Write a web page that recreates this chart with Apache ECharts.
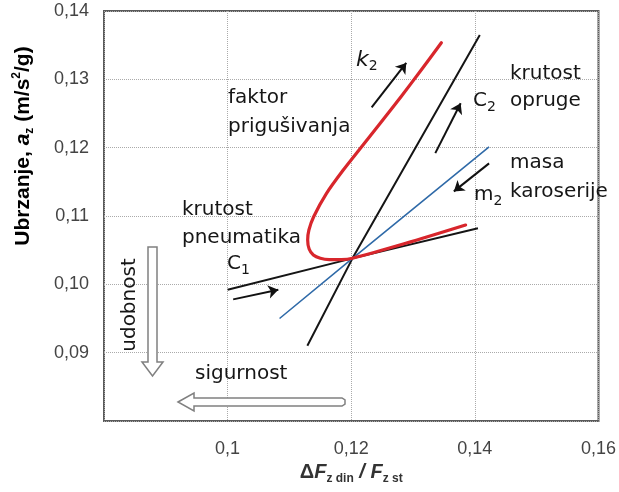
<!DOCTYPE html>
<html>
<head>
<meta charset="utf-8">
<script src="https://cdn.jsdelivr.net/npm/echarts@6/dist/echarts.min.js"></script>
<style>
  html, body { margin: 0; padding: 0; background: #ffffff; }
  #chart { width: 619px; height: 492px; }
</style>
</head>
<body>
<div id="chart"></div>
<script>
// Axis ticks (decimal comma)
const xTicks = [0.10, 0.12, 0.14, 0.16];
const xTickLabels = ['0,1', '0,12', '0,14', '0,16'];
const yTicks = [0.09, 0.10, 0.11, 0.12, 0.13, 0.14];
const yTickLabels = ['0,09', '0,10', '0,11', '0,12', '0,13', '0,14'];

// Damping factor k2 sweep (red)
const dampX = [0.13458, 0.13132, 0.12805, 0.12469, 0.12168, 0.11871, 0.11600, 0.11392, 0.11315, 0.11295, 0.11319, 0.11387, 0.11500, 0.11645, 0.11839, 0.12021, 0.12882, 0.13850];
const dampY = [0.13536, 0.13137, 0.12746, 0.12357, 0.12014, 0.11673, 0.11332, 0.10990, 0.10795, 0.10649, 0.10517, 0.10429, 0.10381, 0.10363, 0.10363, 0.10381, 0.10600, 0.10868];

// Tyre stiffness C1 sweep (black, shallow)
const tyreX = [0.1000, 0.1202, 0.1405];
const tyreY = [0.0992, 0.1038, 0.1082];

// Spring stiffness C2 sweep (black, steep)
const springX = [0.1129, 0.1202, 0.1408];
const springY = [0.0910, 0.1038, 0.1365];

// Body mass m2 sweep (blue)
const massX = [0.1084, 0.1202, 0.1423];
const massY = [0.0950, 0.1038, 0.1201];

// Direction-of-increase arrows [x1, y1, x2, y2]
const arrowK2 = [0.1233, 0.1259, 0.1289, 0.1324];
const arrowC2 = [0.1336, 0.1192, 0.1377, 0.1265];
const arrowM2 = [0.1423, 0.1177, 0.1366, 0.1136];
const arrowC1 = [0.1009, 0.0978, 0.1082, 0.0992];

const pairs = (xs, ys) => xs.map((x, i) => [x, ys[i]]);
const tickLabel = (ticks, labels) => v => {
  const i = ticks.findIndex(t => Math.abs(t - v) < 1e-9);
  return i < 0 ? '' : labels[i];
};

const chart = echarts.init(document.getElementById('chart'));

const TXT = '#161616';
const FONT = 'DejaVu Sans';
const AX = '#333333';
const AXF = 'Liberation Sans';

function note(x, y, text) {
  return {
    type: 'text', x: x, y: y, z: 100,
    style: {
      text: text, fill: TXT, fontSize: 20, fontFamily: FONT,
      textAlign: 'left', textVerticalAlign: 'middle',
      rich: {
        n: { fontSize: 20, fontFamily: FONT, color: TXT, lineHeight: 26, verticalAlign: 'middle' },
        i: { fontSize: 22, fontFamily: FONT, fontStyle: 'italic', color: TXT, lineHeight: 26, verticalAlign: 'middle' },
        s: { fontSize: 14, fontFamily: FONT, color: TXT, lineHeight: 13, verticalAlign: 'bottom' }
      }
    }
  };
}

const arrowSeries = (a) => ({
  type: 'lines',
  coordinateSystem: 'cartesian2d',
  symbol: ['none', 'arrow'],
  symbolSize: 10,
  silent: true,
  z: 5,
  lineStyle: { color: '#111111', width: 2, opacity: 1 },
  data: [{ coords: [[a[0], a[1]], [a[2], a[3]]] }]
});

const axRich = (size) => ({
  b: { fontSize: size, fontWeight: 'bold', fontFamily: AXF, color: AX, lineHeight: size + 4, verticalAlign: 'middle' },
  i: { fontSize: size, fontWeight: 'bold', fontStyle: 'italic', fontFamily: AXF, color: AX, lineHeight: size + 4, verticalAlign: 'middle' },
  s: { fontSize: 12, fontWeight: 'bold', fontFamily: AXF, color: AX, lineHeight: 12, verticalAlign: 'bottom' },
  p: { fontSize: 12, fontWeight: 'bold', fontFamily: AXF, color: AX, lineHeight: 12, verticalAlign: 'top' }
});

const option = {
  animation: false,
  backgroundColor: '#ffffff',
  grid: {
    left: 104, top: 11, width: 496, height: 410,
    show: true, borderColor: '#5a5a5a', borderWidth: 2, backgroundColor: 'transparent'
  },
  xAxis: {
    type: 'value', min: 0.08, max: 0.16, interval: 0.02,
    axisLine: { show: false }, axisTick: { show: false },
    splitLine: { show: true, lineStyle: { color: '#aaaaaa', type: 'dotted', width: 1 } },
    axisLabel: {
      formatter: tickLabel(xTicks, xTickLabels), margin: 19,
      color: '#444444', fontSize: 18, fontFamily: AXF
    },
    name: '{b|Δ}{i|F}{s|z din}{i| / F}{s|z st}',
    nameLocation: 'middle', nameGap: 38,
    nameTextStyle: { rich: axRich(20) }
  },
  yAxis: {
    type: 'value', min: 0.08, max: 0.14, interval: 0.01,
    axisLine: { show: false }, axisTick: { show: false },
    splitLine: { show: true, lineStyle: { color: '#aaaaaa', type: 'dotted', width: 1 } },
    axisLabel: {
      formatter: tickLabel(yTicks, yTickLabels), margin: 15,
      color: '#444444', fontSize: 18, fontFamily: AXF
    }
  },
  graphic: [
    // vertical axis title
    {
      type: 'text', x: 23, y: 146, rotation: Math.PI / 2, z: 100,
      style: {
        text: '{b|Ubrzanje, }{i|a}{s|z}{b| (m/s}{p|2}{b|/g)}',
        textAlign: 'center', textVerticalAlign: 'middle',
        rich: axRich(21)
      }
    },
    note(228, 98, 'faktor'),
    note(228, 127, 'prigušivanja'),
    note(356, 60, '{i|k}{s|2}'),
    note(510, 74, 'krutost'),
    note(510, 101, 'opruge'),
    note(473, 101, '{n|C}{s|2}'),
    note(510, 163, 'masa'),
    note(510, 192, 'karoserije'),
    note(474, 195, '{n|m}{s|2}'),
    note(182, 210, 'krutost'),
    note(182, 238, 'pneumatika'),
    note(227, 264, '{n|C}{s|1}'),
    note(195, 374, 'sigurnost'),
    {
      type: 'text', x: 130, y: 305, rotation: Math.PI / 2, z: 100,
      style: {
        text: 'udobnost', fill: TXT, fontSize: 20, fontFamily: FONT,
        textAlign: 'center', textVerticalAlign: 'middle'
      }
    },
    // comfort: hollow downward arrow
    {
      type: 'polygon', z: 90,
      shape: { points: [[148, 247], [157, 247], [157, 362], [163, 362], [152.5, 376], [142, 362], [148, 362]] },
      style: { fill: '#ffffff', stroke: '#808080', lineWidth: 1.5 }
    },
    // safety: hollow leftward arrow
    {
      type: 'polygon', z: 90,
      shape: { points: [[178, 402], [194, 393], [194, 398], [342, 398], [345, 400], [345, 404], [342, 406], [194, 406], [194, 411]] },
      style: { fill: '#ffffff', stroke: '#808080', lineWidth: 1.5 }
    }
  ],
  series: [
    {
      type: 'line', data: pairs(tyreX, tyreY), showSymbol: false, z: 3,
      lineStyle: { color: '#151515', width: 2 }
    },
    {
      type: 'line', data: pairs(springX, springY), showSymbol: false, z: 3,
      lineStyle: { color: '#151515', width: 2 }
    },
    {
      type: 'line', data: pairs(massX, massY), showSymbol: false, z: 3,
      lineStyle: { color: '#2f6aa8', width: 1.6 }
    },
    {
      type: 'line', data: pairs(dampX, dampY), showSymbol: false, smooth: 0.3, z: 4,
      lineStyle: { color: '#d8262c', width: 3.2, join: 'round', cap: 'round' }
    },
    arrowSeries(arrowK2),
    arrowSeries(arrowC2),
    arrowSeries(arrowM2),
    arrowSeries(arrowC1)
  ]
};

chart.setOption(option);
</script>
</body>
</html>
